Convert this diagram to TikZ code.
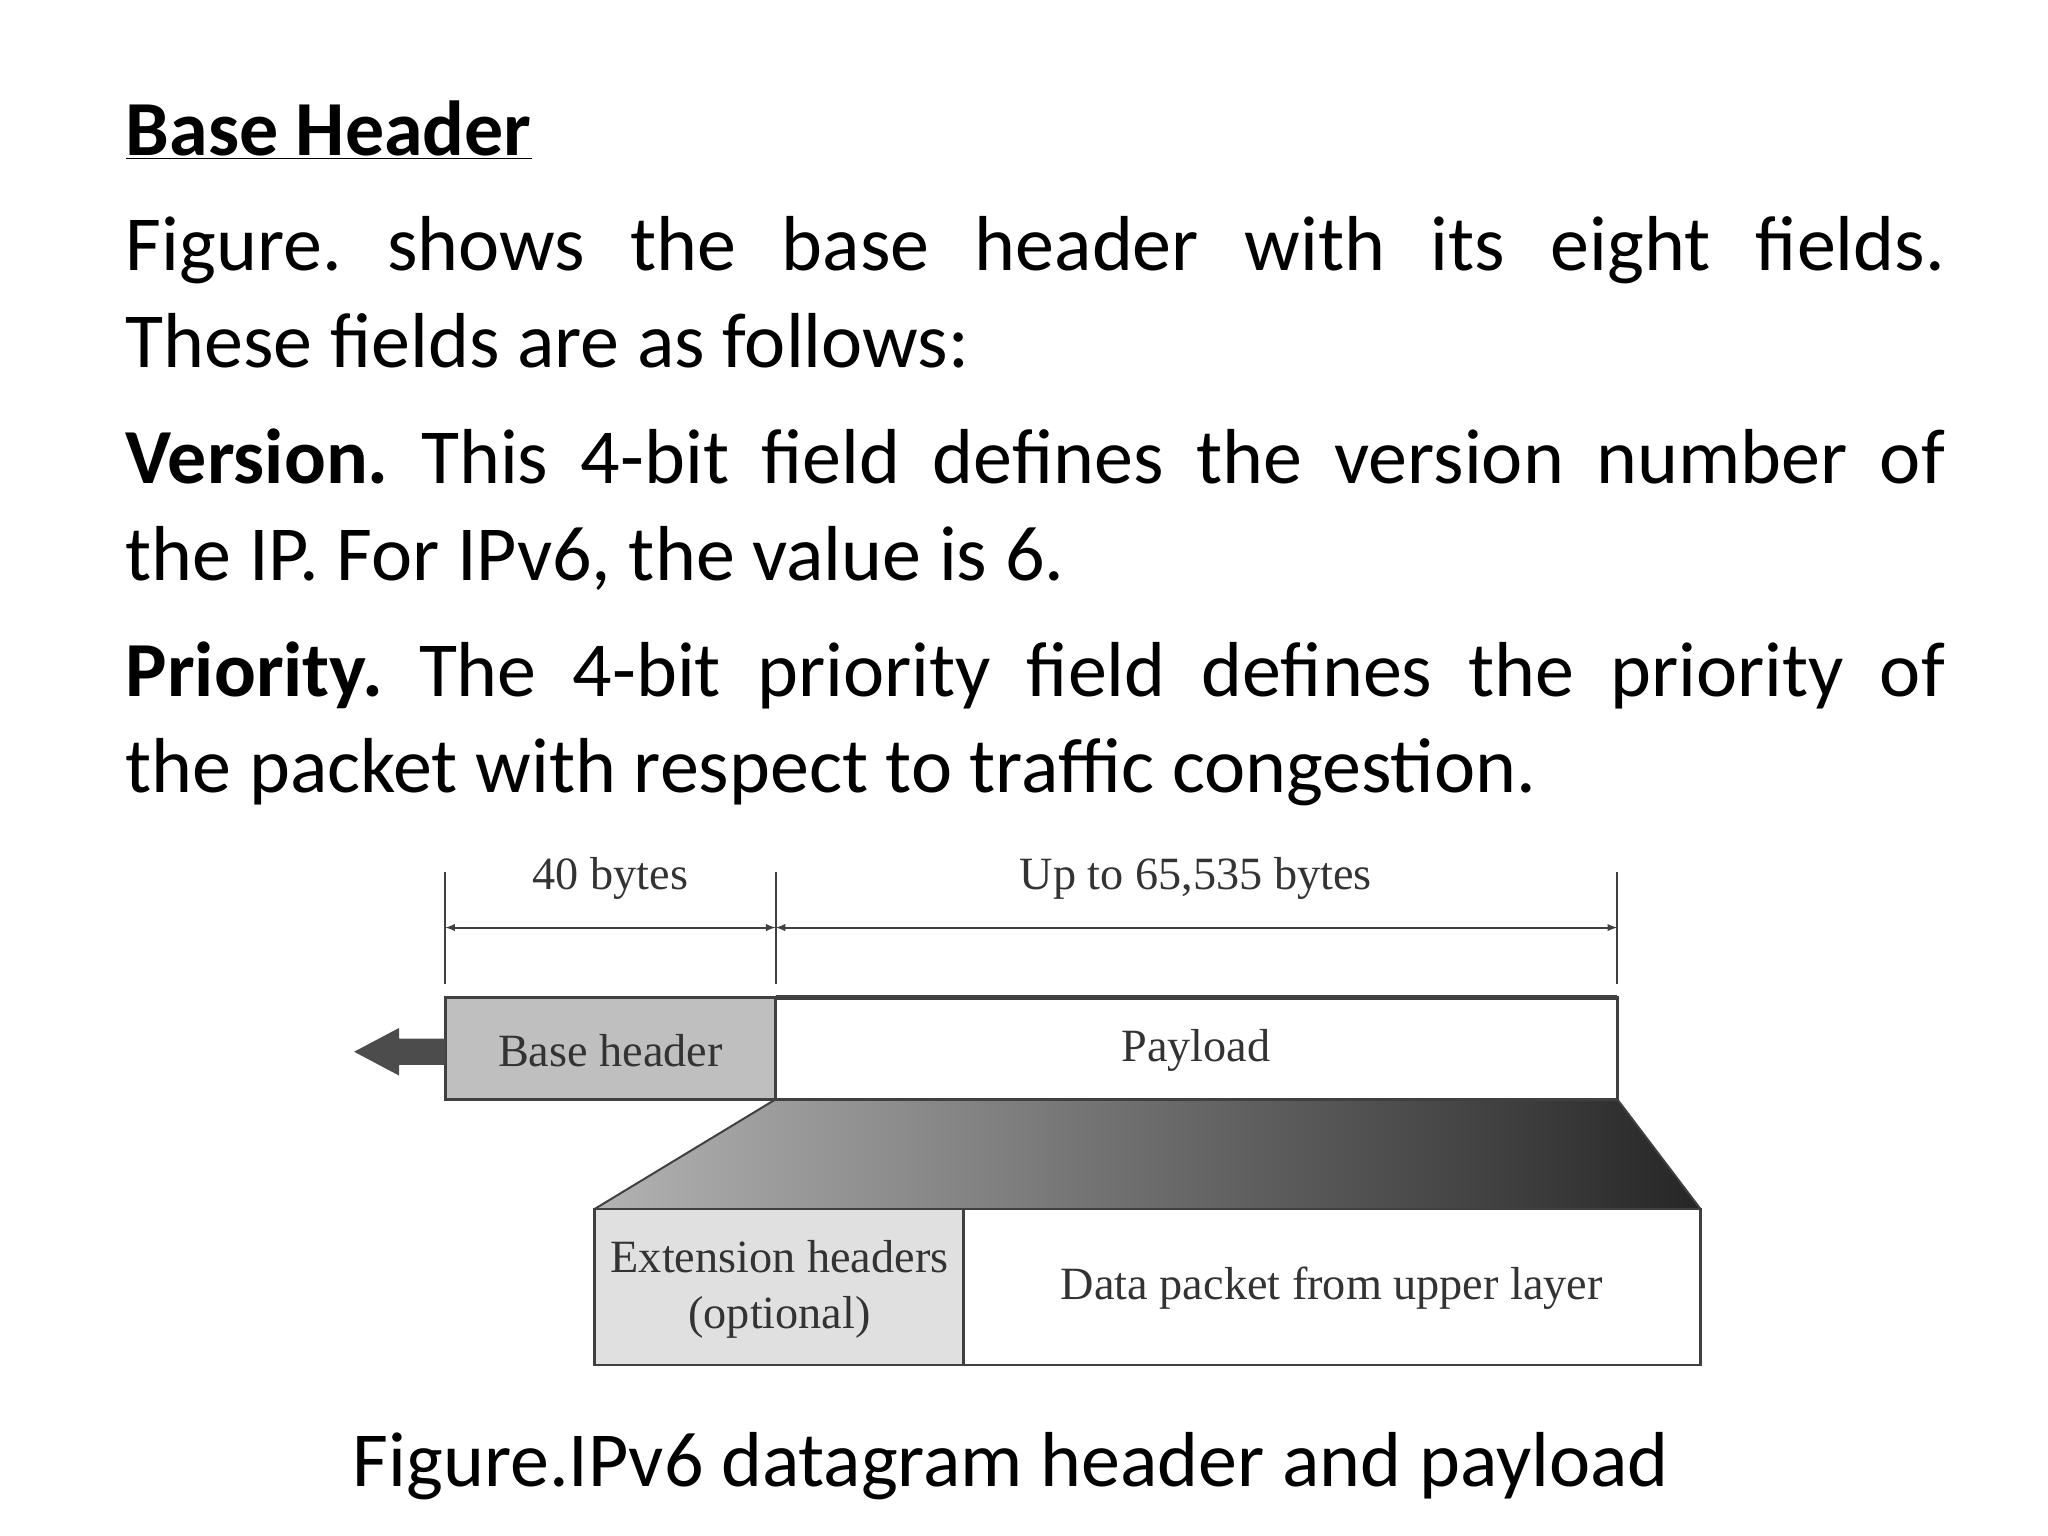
\documentclass[tikz,border=0pt]{standalone}
\usepackage{fontspec}
\setmainfont{Carlito}
\newfontfamily\dserif{Liberation Serif}
\frenchspacing
\begin{document}
\begin{tikzpicture}[x=1pt,y=-1pt,
  body/.style={anchor=base west,inner sep=0pt,font=\fontsize{59}{66}\selectfont},
  lab/.style={inner sep=0pt,font=\dserif\fontsize{35}{42}\selectfont,text=black!80},
  fld/.style={draw=black!75,line width=2pt},
  dim/.style={line width=1.5pt,black!75}]
\useasboundingbox (0,0) rectangle (1550,1162);
\node[body] (t0) at (95,118) {\textbf{\underline{Base Header}}};
\node[body] (t1) at (95,205) {\makebox[1377pt][s]{Figure. shows the base header with its eight fields.}};
\node[body] (t2) at (95,278) {These fields are as follows:};
\node[body] (t3) at (95,366) {\makebox[1377pt][s]{\textbf{Version.} This 4-bit field defines the version number of}};
\node[body] (t4) at (95,439) {the IP. For IPv6, the value is 6.};
\node[body] (t5) at (95,527) {\makebox[1377pt][s]{\textbf{Priority.} The 4-bit priority field defines the priority of}};
\node[body] (t6) at (95,600) {the packet with respect to traffic congestion.};
% dimension lines
\coordinate (a1) at (337,660); \coordinate (a2) at (337,745);
\coordinate (b1) at (587,660); \coordinate (b2) at (587,745);
\coordinate (c1) at (1224,660); \coordinate (c2) at (1224,745);
\draw[dim] (a1)--(a2); \draw[dim] (b1)--(b2); \draw[dim] (c1)--(c2);
\coordinate (d1) at (337,702); \coordinate (d2) at (587,702); \coordinate (d3) at (1224,702);
\draw[dim,latex-latex] (d1)--(d2);
\draw[dim,latex-latex] (d2)--(d3);
\node[lab] (l40) at (462,665) {40 bytes};
\node[lab] (lup) at (905,665) {Up to 65,535 bytes};
% trapezoid
\shade[left color=black!30,right color=black!85] (587,832)--(1224,832)--(1287,915)--(450,915)--cycle;
\draw[black!75,line width=1.5pt] (587,832)--(450,915) (1224,832)--(1287,915);
% boxes
\draw[fld,fill=black!25] (337,755) rectangle (587,832);
\node[lab] (bh) at (462,795) {Base header};
\draw[fld,fill=white] (587,755) rectangle (1224,832);
\node[lab] (pl) at (905,795) {Payload};
\draw[black!75,line width=4pt] (587,755)--(1224,755);
\draw[fld,fill=black!12] (450,915) rectangle (729,1033);
\draw[fld,fill=white] (729,915) rectangle (1287,1033);
\node[lab,align=center] (ex) at (590,976) {Extension headers\\(optional)};
\node[lab] (dp) at (1008,975) {Data packet from upper layer};
% left arrow
\fill[black!70] (337,786)--(302,786)--(302,778)--(268,796)--(302,814)--(302,806)--(337,806)--cycle;
\node[inner sep=0pt,font=\fontsize{59}{66}\selectfont,anchor=base] (cap) at (765,1125) {Figure.IPv6 datagram header and payload};
\end{tikzpicture}
\end{document}
